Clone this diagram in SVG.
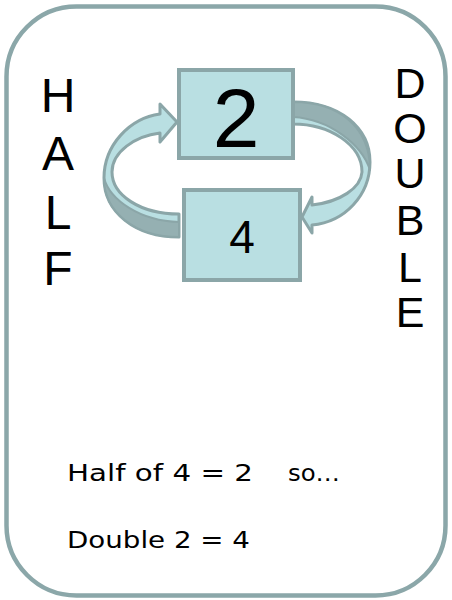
<svg xmlns="http://www.w3.org/2000/svg" width="452" height="600" viewBox="0 0 452 600">
  <style>
    .box { fill: #b9dfe2; stroke: #8ba6a8; stroke-width: 4; }
    .arrow { fill: #b9dfe2; stroke: #8ba6a8; stroke-width: 3; stroke-linejoin: round; }
    .under { fill: #95b0b2; stroke: #8ba6a8; stroke-width: 2; stroke-linejoin: round; }
    .big { font-family: "Liberation Sans", Arial, sans-serif; fill: #000; text-anchor: middle; }
    .note { font-family: "DejaVu Sans", "Comic Sans MS", sans-serif; font-size: 23px; fill: #000; }
  </style>
  <rect id="frame" x="6.5" y="6.5" width="439" height="589" rx="70" ry="70" fill="#fff" stroke="#8ba7a9" stroke-width="4.5"/>
  <g id="connectors">
    <g id="half-arrow">
      <path class="arrow" d="M 179 237 C 135 237, 104 212, 104 178 C 104 145, 130 118, 160 114 L 160 104 L 177 122 L 160 142 L 160 133 C 135 136, 112 152, 112 172 C 112 195, 140 214, 179 214 Z"/>
      <path class="under" d="M 179 237 C 135 237, 104 212, 104 178 C 110 200, 140 221, 179 222 Z"/>
    </g>
    <g id="double-arrow">
      <path class="arrow" d="M 293 102 C 340 102, 370 128, 370 162 C 370 195, 345 222, 312 225 L 312 233 L 302 217 L 312 197 L 312 205 C 340 202, 361 188, 362 172 C 362 145, 330 124, 293 124 Z"/>
      <path class="under" d="M 293 102 C 340 102, 370 128, 370 170 C 362 145, 330 119, 293 117 Z"/>
    </g>
  </g>
  <g id="node-2">
    <rect class="box" x="179" y="70" width="114" height="88"/>
    <text class="big" x="236" y="147" font-size="84">2</text>
  </g>
  <g id="node-4">
    <rect class="box" x="184" y="190" width="116" height="90"/>
    <text class="big" x="242" y="253" font-size="46">4</text>
  </g>
  <g id="half-label" class="big" font-size="48">
    <text x="58" y="112">H</text>
    <text x="58" y="170">A</text>
    <text x="58" y="229">L</text>
    <text x="58" y="285">F</text>
  </g>
  <g id="double-label" class="big" font-size="43">
    <text x="410" y="98">D</text>
    <text x="410" y="143">O</text>
    <text x="410" y="188">U</text>
    <text x="410" y="235">B</text>
    <text x="410" y="282">L</text>
    <text x="410" y="327">E</text>
  </g>
  <g id="notes">
    <text class="note" x="67" y="481" textLength="186" lengthAdjust="spacingAndGlyphs">Half of 4 = 2</text>
    <text class="note" x="288" y="481" textLength="52" lengthAdjust="spacingAndGlyphs">so…</text>
    <text class="note" x="67" y="548" textLength="183" lengthAdjust="spacingAndGlyphs">Double 2 = 4</text>
  </g>
</svg>
